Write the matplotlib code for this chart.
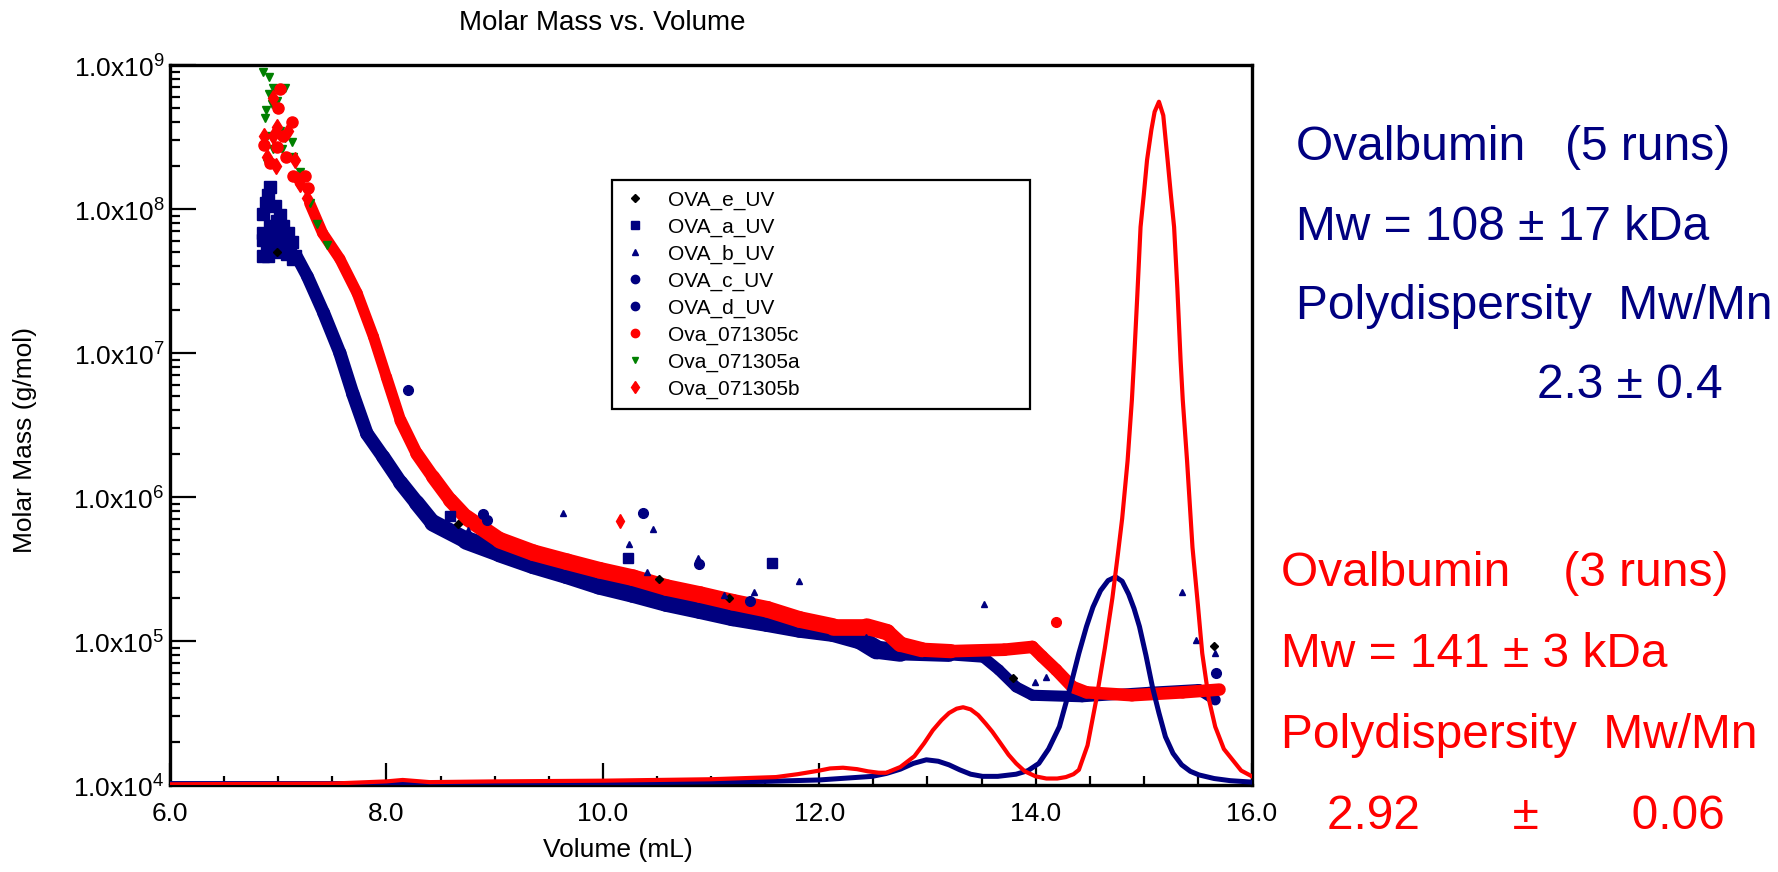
import numpy as np
import matplotlib
matplotlib.use('Agg')
import matplotlib.pyplot as plt
from matplotlib.lines import Line2D
from matplotlib.collections import LineCollection
from matplotlib.ticker import FixedLocator, FixedFormatter, LogLocator, NullFormatter

plt.rcParams['font.family'] = ['Liberation Sans', 'DejaVu Sans']
plt.rcParams['mathtext.fontset'] = 'custom'
plt.rcParams['mathtext.rm'] = 'Liberation Sans'

NAVY = '#000080'
RED = '#ff0000'
GREEN = '#008000'

# molar mass bands (volume mL, molar mass g/mol)
navy_band_v = [7.17, 7.27, 7.42, 7.57, 7.69, 7.82, 7.97, 8.13, 8.28, 8.43, 8.74, 9.05, 9.36,
               9.67, 9.97, 10.28, 10.59, 10.9, 11.2, 11.52, 11.82, 12.13, 12.38, 12.53, 12.75,
               13.2, 13.51, 13.66, 13.82, 13.97, 14.43, 15.05, 15.51, 15.66]
navy_band_m = [4.7e7, 3.4e7, 1.9e7, 1.0e7, 5.2e6, 2.75e6, 1.9e6, 1.26e6, 9.1e5, 6.6e5, 5.0e5, 4.1e5, 3.4e5,
               2.9e5, 2.45e5, 2.15e5, 1.86e5, 1.66e5, 1.48e5, 1.35e5, 1.23e5, 1.15e5, 1.02e5, 8.7e4, 8.3e4,
               8.1e4, 7.8e4, 6.3e4, 4.8e4, 4.2e4, 4.1e4, 4.4e4, 4.6e4, 3.9e4]

red_band_v = [7.29, 7.41, 7.57, 7.73, 7.88, 8.0, 8.13, 8.28, 8.43, 8.59, 8.74, 9.05, 9.36, 9.67,
              9.97, 10.28, 10.59, 10.9, 11.2, 11.52, 11.82, 12.13, 12.44, 12.63, 12.75, 12.95,
              13.22, 13.71, 13.97, 14.06, 14.19, 14.34, 14.47, 14.89, 15.36, 15.70]
red_band_m = [1.1e8, 6.8e7, 4.5e7, 2.6e7, 1.3e7, 6.8e6, 3.4e6, 2.0e6, 1.38e6, 9.5e5, 7.2e5, 5.0e5, 4.1e5, 3.55e5,
              3.1e5, 2.75e5, 2.35e5, 2.1e5, 1.86e5, 1.66e5, 1.41e5, 1.26e5, 1.26e5, 1.15e5, 9.5e4, 8.7e4,
              8.5e4, 8.7e4, 9.1e4, 7.8e4, 6.3e4, 4.8e4, 4.4e4, 4.2e4, 4.4e4, 4.6e4]

# scattered early points
navy_start_v = [6.923, 6.908, 6.886, 6.862, 6.97, 7.016, 6.862, 6.923, 6.985, 7.047, 7.093, 7.124,
                6.862, 6.893, 6.954, 7.016, 7.078, 7.154, 6.862, 6.97, 7.016, 7.047, 6.939,
                6.985, 6.908, 7.108, 7.139]
navy_start_m = [1.43e8, 1.26e8, 1.1e8, 9.3e7, 1.05e8, 9.1e7, 6.8e7, 7.6e7, 8.3e7, 7.6e7, 6.8e7, 5.9e7,
                4.7e7, 5.5e7, 5.2e7, 5.5e7, 4.9e7, 4.7e7, 6.1e7, 6.8e7, 6.8e7, 5.9e7, 5.9e7,
                5.0e7, 4.7e7, 5.2e7, 4.5e7]
green_start_v = [6.856, 6.917, 6.954, 7.062, 6.917, 6.886, 6.874, 6.939, 6.985, 6.893, 7.016, 7.062,
                 7.124, 6.954, 6.899, 7.139, 7.20, 7.031, 7.262, 7.293, 7.354, 7.45]
green_start_m = [8.9e8, 8.3e8, 6.9e8, 6.9e8, 6.3e8, 4.9e8, 4.3e8, 5.4e8, 5.6e8, 3.2e8, 3.5e8, 3.1e8,
                 2.9e8, 2.6e8, 2.1e8, 2.3e8, 1.8e8, 2.6e8, 1.3e8, 1.1e8, 7.9e7, 5.6e7]
red_c_start_v = [7.016, 7.0, 7.124, 6.871, 7.047, 6.985, 6.923, 7.071, 7.133, 7.247, 7.277]
red_c_start_m = [6.8e8, 5.0e8, 4.0e8, 2.8e8, 3.2e8, 2.7e8, 2.1e8, 2.3e8, 1.7e8, 1.7e8, 1.4e8]
red_b_start_v = [6.948, 6.985, 6.868, 6.954, 7.093, 6.899, 6.979, 7.154, 7.185, 7.20, 7.262]
red_b_start_m = [5.9e8, 3.7e8, 3.2e8, 3.2e8, 3.5e8, 2.3e8, 2.0e8, 2.2e8, 1.6e8, 1.5e8, 1.2e8]

# outliers per run
e_v = [6.985, 8.66, 10.52, 11.17, 13.79, 15.65]
e_m = [5.0e7, 6.5e5, 2.7e5, 2.0e5, 5.5e4, 9.3e4]
a_v = [8.59, 10.23, 11.56]
a_m = [7.4e5, 3.8e5, 3.5e5]
b_v = [8.75, 9.63, 10.24, 10.46, 10.41, 10.88, 11.12, 11.40, 11.81, 12.43, 13.52, 13.99, 14.10,
       15.35, 15.48, 15.66]
b_m = [5.9e5, 7.8e5, 4.7e5, 6.0e5, 3.0e5, 3.8e5, 2.1e5, 2.2e5, 2.6e5, 1.07e5, 1.8e5, 5.2e4, 5.6e4,
       2.2e5, 1.02e5, 8.3e4]
c_v = [8.20, 8.89, 10.37, 15.67]
c_m = [5.5e6, 7.6e5, 7.8e5, 6.0e4]
d_v = [8.93, 10.89, 11.36]
d_m = [6.9e5, 3.4e5, 1.9e5]
ova_b_v = [10.16]
ova_b_m = [6.8e5]
ova_c_v = [14.19]
ova_c_m = [1.35e5]

# detector traces (relative signal)
navy_trace_v = [6.0, 8.0, 10.0, 11.5, 12.0, 12.49, 12.62, 12.75, 12.87, 12.99, 13.1, 13.2, 13.3,
                13.4, 13.51, 13.65, 13.82, 13.93, 14.03, 14.12, 14.22, 14.31, 14.40, 14.47, 14.53,
                14.60, 14.67, 14.74, 14.80, 14.86, 14.91, 14.96, 15.02, 15.08, 15.14, 15.2, 15.27,
                15.35, 15.43, 15.51, 15.65, 15.8, 16.0]
navy_trace_s = [0.002, 0.002, 0.003, 0.005, 0.007, 0.012, 0.016, 0.022, 0.03, 0.035, 0.033, 0.028, 0.021,
                0.015, 0.012, 0.012, 0.015, 0.02, 0.03, 0.05, 0.081, 0.13, 0.183, 0.22, 0.247,
                0.27, 0.284, 0.289, 0.283, 0.265, 0.245, 0.22, 0.18, 0.136, 0.10, 0.067, 0.044,
                0.028, 0.019, 0.014, 0.009, 0.006, 0.004]
red_trace_v = [6.0, 7.5, 8.0, 8.15, 8.4, 9.0, 10.0, 11.0, 11.6, 11.8, 12.0, 12.1, 12.22, 12.35,
               12.45, 12.55, 12.62, 12.75, 12.88, 12.97, 13.05, 13.13, 13.2, 13.27, 13.33, 13.40,
               13.47, 13.54, 13.6, 13.68, 13.75, 13.82, 13.9, 14.0, 14.1, 14.2, 14.28, 14.35,
               14.40, 14.48, 14.56, 14.64, 14.71, 14.76, 14.80, 14.85, 14.89, 14.91, 14.94, 14.97,
               15.00, 15.03, 15.07, 15.10, 15.14, 15.18, 15.22, 15.25, 15.28, 15.31, 15.34, 15.36,
               15.40, 15.45, 15.50, 15.54, 15.60, 15.66, 15.74, 15.82, 15.90, 16.0]
red_trace_s = [0.001, 0.002, 0.005, 0.007, 0.004, 0.005, 0.006, 0.008, 0.011, 0.015, 0.02, 0.023, 0.024, 0.022,
               0.019, 0.017, 0.017, 0.025, 0.04, 0.058, 0.076, 0.09, 0.10, 0.106, 0.108, 0.105,
               0.097, 0.085, 0.074, 0.057, 0.042, 0.03, 0.019, 0.012, 0.009, 0.009, 0.011, 0.015,
               0.021, 0.055, 0.118, 0.19, 0.26, 0.32, 0.37, 0.45, 0.535, 0.59, 0.68, 0.775,
               0.82, 0.868, 0.91, 0.935, 0.949, 0.93, 0.868, 0.82, 0.775, 0.69, 0.59, 0.535,
               0.45, 0.33, 0.25, 0.183, 0.12, 0.081, 0.05, 0.035, 0.02, 0.012]

fig = plt.figure(figsize=(17.78, 8.72), dpi=100)
ax = fig.add_axes([170/1778, 1-785/872, 1082/1778, 720/872])
ax.set_yscale('log')


def band(v, m, widths, color, z):
    # thick band of densely packed markers, drawn as a line of varying width
    v = np.asarray(v)
    m = np.asarray(m)
    segs = [[(v[i], m[i]), (v[i + 1], m[i + 1])] for i in range(len(v) - 1)]
    mid = (v[:-1] + v[1:]) / 2
    lw = np.interp(mid, [7.2, 8.0, 9.0, 12.5, 13.5, 16], widths)
    lc = LineCollection(segs, colors=color, linewidths=lw, capstyle='round', joinstyle='round', zorder=z)
    ax.add_collection(lc)


band(navy_band_v, navy_band_m, [9, 10, 14, 14, 8, 8], NAVY, 2)
ax.plot(navy_start_v, navy_start_m, 's', color=NAVY, ms=9, zorder=2)
band(red_band_v, red_band_m, [8, 8, 12, 12, 9, 9], RED, 3)
ax.plot(green_start_v, green_start_m, 'v', color=GREEN, ms=6, zorder=3)
ax.plot(red_c_start_v, red_c_start_m, 'o', color=RED, ms=8, zorder=3)
ax.plot(red_b_start_v, red_b_start_m, 'd', color=RED, ms=8, zorder=3)

ax.plot(e_v, e_m, 'D', color='black', ms=4, ls='none', zorder=4)
ax.plot(a_v, a_m, 's', color=NAVY, ms=7, ls='none', zorder=4)
ax.plot(b_v, b_m, '^', color=NAVY, ms=5, ls='none', zorder=4)
ax.plot(c_v, c_m, 'o', color=NAVY, ms=7, ls='none', zorder=4)
ax.plot(d_v, d_m, 'o', color=NAVY, ms=7, ls='none', zorder=4)
ax.plot(ova_b_v, ova_b_m, 'd', color=RED, ms=7, ls='none', zorder=4)
ax.plot(ova_c_v, ova_c_m, 'o', color=RED, ms=7, ls='none', zorder=4)

ax.set_xlim(6, 16)
ax.set_ylim(1e4, 1e9)

ax2 = ax.twinx()
ax2.set_ylim(0, 1)
ax2.set_axis_off()
ax2.plot(navy_trace_v, navy_trace_s, color=NAVY, lw=3.6, solid_joinstyle='round')
ax2.plot(red_trace_v, red_trace_s, color=RED, lw=3.0, solid_joinstyle='round')

for s in ax.spines.values():
    s.set_linewidth(2.4)

ax.xaxis.set_major_locator(FixedLocator([6, 8, 10, 12, 14, 16]))
ax.xaxis.set_major_formatter(FixedFormatter(['6.0', '8.0', '10.0', '12.0', '14.0', '16.0']))
ax.xaxis.set_minor_locator(FixedLocator(np.arange(6, 16.01, 0.5)))
ax.yaxis.set_major_locator(FixedLocator([1e4, 1e5, 1e6, 1e7, 1e8, 1e9]))
ax.yaxis.set_major_formatter(FixedFormatter([r'1.0x10$^{%d}$' % k for k in range(4, 10)]))
ax.yaxis.set_minor_locator(LogLocator(base=10, subs=np.arange(2, 10)))
ax.yaxis.set_minor_formatter(NullFormatter())
ax.tick_params(axis='x', which='major', direction='in', length=16, width=1.6, labelsize=19, pad=12)
ax.tick_params(axis='x', which='minor', direction='in', length=6.5, width=1.6)
ax.tick_params(axis='y', which='major', direction='in', length=19, width=1.6, labelsize=19, pad=4)
ax.tick_params(axis='y', which='minor', direction='in', length=7, width=1.6)

fig.text(602/1778, 1-23/872, 'Molar Mass vs. Volume', ha='center', va='center', fontsize=20)
fig.text(618/1778, 1-850/872, 'Volume (mL)', ha='center', va='center', fontsize=19)
fig.text(25/1778, 1-440/872, 'Molar Mass (g/mol)', ha='center', va='center', rotation=90, fontsize=19)

handles = [
    Line2D([], [], ls='none', marker='D', color='black', ms=4),
    Line2D([], [], ls='none', marker='s', color=NAVY, ms=6),
    Line2D([], [], ls='none', marker='^', color=NAVY, ms=4),
    Line2D([], [], ls='none', marker='o', color=NAVY, ms=6),
    Line2D([], [], ls='none', marker='o', color=NAVY, ms=6),
    Line2D([], [], ls='none', marker='o', color=RED, ms=6),
    Line2D([], [], ls='none', marker='v', color=GREEN, ms=5),
    Line2D([], [], ls='none', marker='d', color=RED, ms=6),
]
labels = ['OVA_e_UV', 'OVA_a_UV', 'OVA_b_UV', 'OVA_c_UV', 'OVA_d_UV',
          'Ova_071305c', 'Ova_071305a', 'Ova_071305b']
leg = ax2.legend(handles, labels, loc='upper left', bbox_to_anchor=(0.4085, 0.519, 0.3865, 0.321),
                 mode='expand', fontsize=15, frameon=True, fancybox=False, edgecolor='black',
                 framealpha=1, borderpad=0.5, labelspacing=0.37, handlelength=1.2, handletextpad=1.0,
                 borderaxespad=0)
leg.get_frame().set_linewidth(1.6)
leg.set_zorder(10)

navy_lines = [('Ovalbumin   (5 runs)', 1296, 147), ('Mw = 108 ± 17 kDa', 1296, 227),
              ('Polydispersity  Mw/Mn', 1296, 306), ('2.3 ± 0.4', 1537, 386)]
red_lines = [('Ovalbumin    (3 runs)', 1281, 573), ('Mw = 141 ± 3 kDa', 1281, 654),
             ('Polydispersity  Mw/Mn', 1281, 735), ('2.92       ±       0.06', 1327, 816)]
for txt, x, y in navy_lines:
    fig.text(x/1778, 1-y/872, txt, color=NAVY, fontsize=34.5, ha='left', va='center')
for txt, x, y in red_lines:
    fig.text(x/1778, 1-y/872, txt, color=RED, fontsize=34.5, ha='left', va='center')

fig.savefig('out.png', dpi=100)
